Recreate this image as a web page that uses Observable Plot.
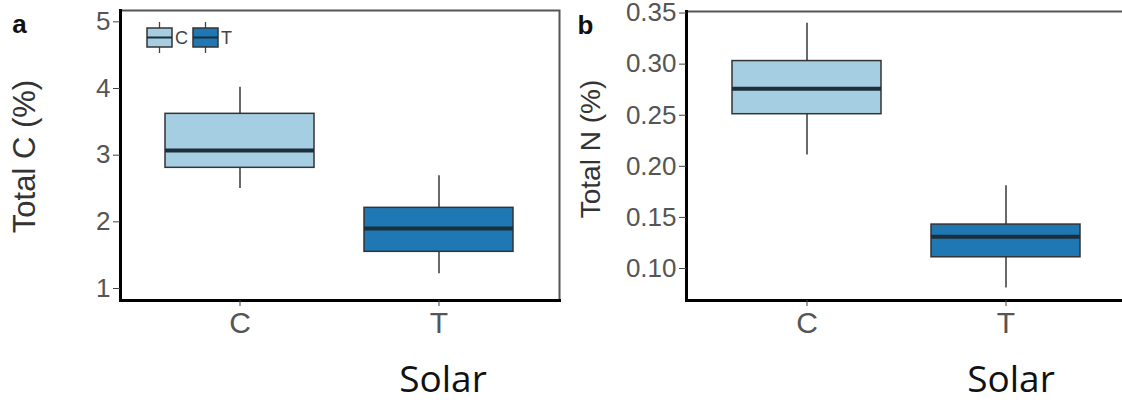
<!DOCTYPE html>
<html>
<head>
<meta charset="utf-8">
<script src="https://cdn.jsdelivr.net/npm/d3@7"></script>
<script src="https://cdn.jsdelivr.net/npm/@observablehq/plot@0.6"></script>
<style>
  html, body { margin: 0; padding: 0; background: #fff; overflow: hidden; }
  #wrap { position: relative; width: 1122px; height: 402px; overflow: hidden; }
  .panel { position: absolute; top: 0; }
  .solar { position: absolute; font-family: "Open Sans", sans-serif; font-size: 37px; color: #111; transform: translateX(-50%); white-space: nowrap; }
  #legend { position: absolute; left: 140px; top: 18px; font-family: "Liberation Sans", Arial, sans-serif; }
</style>
</head>
<body>
<div id="wrap"></div>
<script>
// ---- data ----
const groups = ["C", "T"];
const groupColors = ["#a6cee3", "#1f78b4"];
const xTitle = "Solar";

const carbonMin = [2.50, 1.22];
const carbonQ1  = [2.81, 1.55];
const carbonMed = [3.07, 1.90];
const carbonQ3  = [3.62, 2.21];
const carbonMax = [4.02, 2.69];
const carbonTicks = [1, 2, 3, 4, 5];

const nitroMin = [0.211, 0.081];
const nitroQ1  = [0.251, 0.111];
const nitroMed = [0.276, 0.131];
const nitroQ3  = [0.303, 0.143];
const nitroMax = [0.340, 0.181];
const nitroTicks = [0.10, 0.15, 0.20, 0.25, 0.30, 0.35];

function rows(mins, q1s, meds, q3s, maxs) {
  return groups.map((g, i) => ({group: g, min: mins[i], q1: q1s[i], med: meds[i], q3: q3s[i], max: maxs[i]}));
}

function panel({data, yDomain, ticks, fmt, title, titleSize, titleDy, tag, left, width, marginTop}) {
  const p = Plot.plot({
    width, height: 345,
    marginLeft: 120, marginRight: width === 562 ? 3 : 0, marginTop, marginBottom: 45,
    style: {fontFamily: "'Liberation Sans', Arial, sans-serif", background: "transparent"},
    x: {type: "band", domain: groups, paddingInner: 0.25, paddingOuter: 0.225},
    y: {domain: yDomain},
    color: {domain: groups, range: groupColors},
    marks: [
      Plot.frame({stroke: "#555", strokeWidth: 2}),
      Plot.ruleX(data, {x: "group", y1: "min", y2: "max", stroke: "#444", strokeWidth: 1.6}),
      Plot.barY(data, {x: "group", y1: "q1", y2: "q3", fill: "group", stroke: "#333", strokeWidth: 1.5}),
      Plot.tickY(data, {x: "group", y: "med", stroke: "#1d2f3b", strokeWidth: 4}),
      Plot.frame({anchor: "left", stroke: "#000", strokeWidth: 3}),
      Plot.frame({anchor: "bottom", stroke: "#000", strokeWidth: 3}),
      Plot.axisY({ticks, tickFormat: fmt, tickSize: 7, tickPadding: 3, fontSize: 26, fill: "#555", stroke: "#444", label: null}),
      Plot.axisX({tickSize: 6, tickPadding: 5, fontSize: 30, fill: "#555", stroke: "#444", label: null}),
      Plot.text([title], {text: d => d, frameAnchor: "left", textAnchor: "middle", lineAnchor: "middle", rotate: -90, dx: -95, dy: titleDy, fontSize: titleSize, fill: "#333"}),
      Plot.text([tag], {text: d => d, frameAnchor: "top-left", textAnchor: "middle", lineAnchor: "middle", dx: -101, dy: 14, fontSize: 26, fontWeight: "bold", fill: "#111"})
    ]
  });
  p.classList.add("panel");
  p.style.left = left + "px";
  return p;
}

const wrap = document.getElementById("wrap");
wrap.appendChild(panel({
  data: rows(carbonMin, carbonQ1, carbonMed, carbonQ3, carbonMax),
  yDomain: [0.82, 5.17], ticks: carbonTicks, fmt: d3.format("d"),
  title: "Total C (%)", titleSize: 31, titleDy: 1, tag: "a", left: 0, width: 562, marginTop: 10
}));
wrap.appendChild(panel({
  data: rows(nitroMin, nitroQ1, nitroMed, nitroQ3, nitroMax),
  yDomain: [0.0687, 0.3515], ticks: nitroTicks, fmt: d3.format(".2f"),
  title: "Total N (%)", titleSize: 28, titleDy: -7, tag: "b", left: 566, width: 560, marginTop: 11
}));

// x titles
[443, 1011].forEach(cx => {
  const d = document.createElement("div");
  d.className = "solar";
  d.textContent = xTitle;
  d.style.left = cx + "px";
  d.style.top = "352px";
  wrap.appendChild(d);
});

// legend (inside panel a)
const ns = "http://www.w3.org/2000/svg";
const leg = document.createElementNS(ns, "svg");
leg.setAttribute("id", "legend");
leg.setAttribute("width", 110);
leg.setAttribute("height", 40);
let x0 = 7;
groups.forEach((g, i) => {
  const gEl = document.createElementNS(ns, "g");
  gEl.setAttribute("transform", `translate(${x0},0)`);
  gEl.innerHTML = `
    <line x1="12.5" x2="12.5" y1="4" y2="35" stroke="#444" stroke-width="1.3"/>
    <rect x="0" y="10" width="25" height="19" fill="${groupColors[i]}" stroke="#333" stroke-width="1.5"/>
    <line x1="0" x2="25" y1="19.5" y2="19.5" stroke="#1d2f3b" stroke-width="2"/>
    <text x="28" y="26" font-size="18" fill="#444">${g}</text>`;
  leg.appendChild(gEl);
  x0 += 46;
});
wrap.appendChild(leg);
</script>
</body>
</html>
